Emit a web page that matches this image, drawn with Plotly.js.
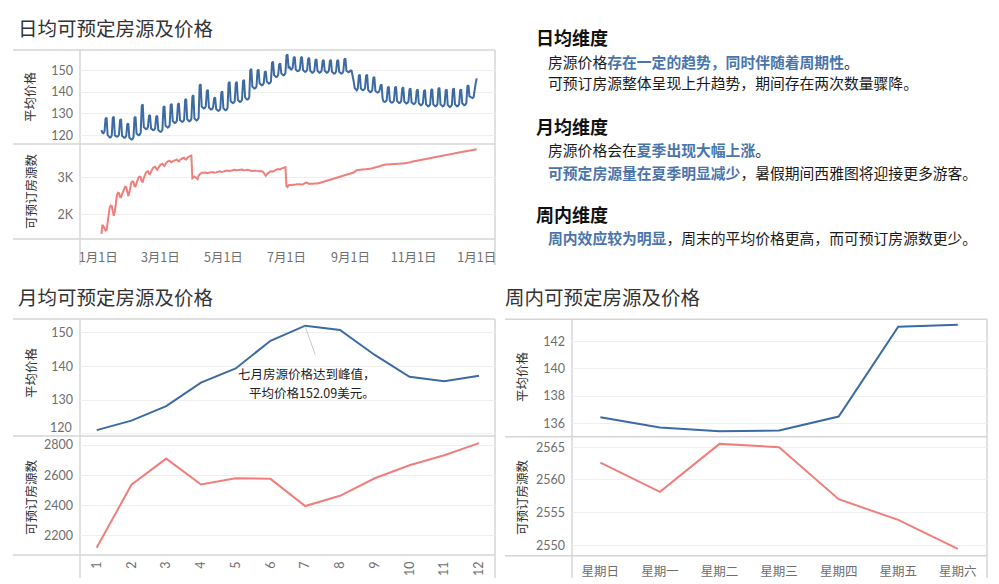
<!DOCTYPE html>
<html>
<head>
<meta charset="utf-8">
<script src="https://cdn.plot.ly/plotly-3.0.1.min.js"></script>
<style>
html,body{margin:0;padding:0;background:#fff;}
#chart{width:999px;height:584px;}
</style>
</head>
<body>
<div id="chart"></div>
<script>
// ---------- DATA ----------
const dailyStart = [2016, 0, 4]; // first day of the daily series (Mon 2016-01-04)

// daily average price, one row per week (Mon..Sun)
const dailyPrice = [
122.4,121.2,121.0,121.9,127.7,128.2,120.2,
119.3,119.0,119.1,119.9,128.1,128.6,120.0,
119.6,119.4,119.5,120.3,127.0,127.5,119.8,
119.1,118.9,119.0,119.8,125.1,125.5,119.0,
118.3,118.1,118.2,119.0,128.1,128.6,120.8,
120.2,120.0,120.3,121.2,133.5,134.3,123.8,
123.1,122.9,123.0,123.8,129.0,129.4,123.3,
122.6,122.4,122.5,123.3,128.6,129.0,122.5,
121.8,121.6,121.8,122.6,133.0,133.5,124.5,
123.8,123.6,123.8,124.7,134.0,134.5,126.6,
125.9,125.7,125.9,126.8,134.3,134.8,127.1,
126.4,126.2,126.4,127.2,136.3,136.8,127.4,
126.7,126.5,126.7,127.5,138.0,138.5,127.8,
127.1,126.9,127.2,128.0,143.0,143.6,133.3,
132.6,132.4,132.6,133.4,140.5,141.0,132.8,
132.1,131.9,132.1,132.9,137.0,137.5,132.2,
131.5,131.3,131.5,132.3,139.8,140.3,132.5,
131.8,131.6,131.8,132.6,144.1,144.7,135.8,
135.1,134.9,135.1,135.9,144.1,144.7,136.3,
135.6,135.4,135.6,136.4,145.0,145.6,137.4,
136.7,136.5,136.7,137.6,150.1,150.7,142.5,
141.8,141.6,141.8,142.6,149.9,150.4,144.0,
143.3,143.1,143.3,144.1,149.1,149.6,144.8,
144.1,143.9,144.1,145.0,153.4,154.0,147.8,
147.1,146.9,147.1,148.0,152.7,153.2,148.6,
147.9,147.7,147.9,148.8,156.8,157.4,151.3,
151.5,150.5,150.4,151.2,155.8,156.3,150.5,
149.8,149.6,149.8,150.6,155.8,156.3,150.2,
149.5,149.3,149.5,150.3,155.3,155.8,149.8,
149.1,148.9,149.1,149.9,154.7,155.2,149.8,
149.1,148.9,149.1,149.9,154.3,154.8,149.8,
149.1,148.9,149.1,149.9,154.3,154.8,149.4,
148.7,148.5,148.7,149.5,154.3,154.8,149.4,
148.7,148.5,148.7,149.6,155.0,155.5,149.8,
149.3,149.1,149.4,150.0,149.8,148.0,145.0,
141.8,141.0,140.8,141.6,147.5,148.0,141.6,
141.1,140.9,141.1,141.9,147.5,148.0,141.0,
140.1,139.9,140.1,140.9,146.5,147.0,140.6,
139.9,139.7,139.9,140.6,143.0,143.5,137.0,
135.6,135.4,135.6,136.4,142.0,142.5,136.0,
135.3,135.1,135.3,136.1,142.0,142.5,135.8,
135.1,134.9,135.1,135.9,141.7,142.2,135.6,
134.9,134.7,134.9,135.7,141.2,141.7,135.3,
134.6,134.4,134.6,135.4,140.7,141.2,134.8,
134.1,133.9,134.1,134.9,140.5,141.0,134.3,
133.6,133.4,133.6,134.4,140.9,141.4,134.3,
133.6,133.4,133.6,134.4,141.5,142.0,134.3,
133.6,133.4,133.6,134.4,140.7,141.2,134.0,
133.3,133.1,133.3,134.1,141.2,141.7,134.3,
133.6,133.4,133.6,134.4,140.7,141.2,134.8,
134.1,133.9,134.1,134.9,142.7,143.2,138.0,
137.8,137.3,137.2,137.6,141.5,144.0,146.3
];

// daily number of bookable listings, one row per week (Mon..Sun)
const dailyListings = [
1500,1740,1700,1640,1590,1600,1800,
2050,2200,2250,2240,2100,1980,2100,
2400,2520,2590,2580,2480,2470,2560,
2620,2700,2750,2740,2560,2500,2600,
2780,2860,2890,2880,2760,2760,2850,
2950,3000,3020,3010,2890,2880,2980,
3080,3120,3150,3160,3100,3080,3150,
3220,3250,3270,3280,3230,3200,3250,
3300,3330,3350,3360,3320,3300,3360,
3400,3420,3430,3440,3410,3400,3430,
3440,3450,3460,3470,3440,3420,3460,
3490,3500,3510,3520,3480,3470,3520,
3540,3555,3565,3575,2975,2990,3020,
3000,2960,2950,3040,3090,3100,3120,
3125,3130,3130,3125,3110,3105,3120,
3130,3135,3140,3140,3120,3115,3130,
3140,3150,3155,3160,3140,3135,3150,
3160,3170,3175,3180,3165,3160,3175,
3180,3190,3195,3200,3185,3180,3190,
3195,3200,3200,3205,3190,3185,3195,
3195,3200,3200,3195,3180,3170,3175,
3180,3180,3175,3170,3160,3150,3160,
3165,3160,3150,3120,3060,3040,3080,
3110,3140,3150,3160,3150,3150,3170,
3190,3200,3210,3220,3210,3210,3230,
3240,3250,3260,3270,2760,2740,2790,
2790,2800,2805,2810,2800,2795,2810,
2815,2820,2820,2815,2810,2805,2815,
2830,2850,2860,2855,2835,2825,2830,
2825,2830,2830,2835,2830,2825,2835,
2842,2850,2860,2870,2875,2880,2895,
2905,2915,2920,2930,2935,2940,2950,
2960,2970,2975,2980,2985,2990,3000,
3010,3020,3025,3035,3040,3045,3055,
3065,3075,3085,3095,3105,3115,3125,
3150,3180,3190,3195,3195,3200,3200,
3205,3205,3210,3210,3215,3215,3220,
3225,3230,3235,3240,3245,3250,3255,
3260,3265,3270,3280,3300,3315,3325,
3330,3335,3340,3342,3345,3348,3350,
3352,3354,3355,3356,3358,3360,3362,
3363,3364,3365,3366,3367,3368,3370,
3375,3380,3385,3390,3395,3400,3410,
3415,3420,3425,3430,3435,3440,3445,
3450,3455,3460,3465,3468,3470,3475,
3480,3485,3490,3495,3500,3505,3510,
3515,3520,3525,3530,3535,3540,3545,
3550,3560,3565,3570,3575,3580,3590,
3600,3605,3610,3620,3625,3630,3640,
3645,3650,3655,3660,3665,3668,3670,
3672,3675,3680,3685,3690,3693,3700,
3705,3710,3715,3720,3725,3730,3745
];

const dateTickVals = ['2016-01-01','2016-03-01','2016-05-01','2016-07-01','2016-09-01','2016-11-01','2017-01-01'];
const dateTickText = ['1月1日','3月1日','5月1日','7月1日','9月1日','11月1日','1月1日'];

const months = ['1','2','3','4','5','6','7','8','9','10','11','12'];
const monthPrice = [121.1,123.9,128.2,135.2,139.4,147.6,152.09,150.8,143.4,136.9,135.6,137.2];
const monthListings = [2121,2537,2710,2539,2580,2576,2396,2464,2580,2666,2732,2812];
const peakMonthIndex = 6; // July
const peakNoteLines = ['七月房源价格达到峰值，', '平均价格152.09美元。'];

const weekdays = ['星期日','星期一','星期二','星期三','星期四','星期五','星期六'];
const weekdayPrice = [136.44,135.68,135.41,135.46,136.49,143.10,143.25];
const weekdayListings = [2562.65,2558.16,2565.50,2565.00,2557.04,2553.87,2549.43];

// ---------- BUILD ----------
const dailyDates = dailyPrice.map((_, i) => {
  const d = new Date(Date.UTC(dailyStart[0], dailyStart[1], dailyStart[2] + i));
  return d.toISOString().slice(0, 10);
});

const W = 999, H = 584;
const X = px => px / W;
const Y = py => 1 - py / H;

const BLUE = '#3c6aa3';
const RED = '#ef7f7a';
const NUMFONT = "Lato, 'Noto Sans CJK SC', sans-serif";
const CJK = "'Noto Sans CJK SC', 'Noto Sans', sans-serif";
const tickFont = {family: NUMFONT, size: 12.5, color: '#6e6e6e'};
const GRID = '#efefef';
const FRAME = '#d6d6d6';

function yAxis(domain, range, extra) {
  return Object.assign({
    domain: domain, range: range, showgrid: true, gridcolor: GRID, gridwidth: 1,
    zeroline: false, showline: false, ticks: '', ticklabelstandoff: 6,
    tickfont: tickFont, fixedrange: true
  }, extra);
}

const traces = [
  {x: dailyDates, y: dailyPrice, xaxis: 'x', yaxis: 'y', type: 'scatter', mode: 'lines',
   line: {color: BLUE, width: 2}, hoverinfo: 'skip'},
  {x: dailyDates, y: dailyListings, xaxis: 'x', yaxis: 'y2', type: 'scatter', mode: 'lines',
   line: {color: RED, width: 2}, hoverinfo: 'skip'},
  {x: months, y: monthPrice, xaxis: 'x2', yaxis: 'y3', type: 'scatter', mode: 'lines',
   line: {color: BLUE, width: 2}, hoverinfo: 'skip'},
  {x: months, y: monthListings, xaxis: 'x2', yaxis: 'y4', type: 'scatter', mode: 'lines',
   line: {color: RED, width: 2}, hoverinfo: 'skip'},
  {x: weekdays, y: weekdayPrice, xaxis: 'x3', yaxis: 'y5', type: 'scatter', mode: 'lines',
   line: {color: BLUE, width: 2}, hoverinfo: 'skip'},
  {x: weekdays, y: weekdayListings, xaxis: 'x3', yaxis: 'y6', type: 'scatter', mode: 'lines',
   line: {color: RED, width: 2}, hoverinfo: 'skip'}
];

function hline(y, x0, x1) {
  return {type: 'line', xref: 'paper', yref: 'paper', x0: X(x0), x1: X(x1), y0: Y(y), y1: Y(y),
          line: {color: FRAME, width: 1.5}, layer: 'below'};
}
function vline(x, y0, y1) {
  return {type: 'line', xref: 'paper', yref: 'paper', x0: X(x), x1: X(x), y0: Y(y0), y1: Y(y1),
          line: {color: FRAME, width: 1.5}, layer: 'below'};
}

const shapes = [
  // daily chart frame
  hline(50, 13, 495), hline(144, 13, 495), hline(239, 13, 495),
  vline(80, 50, 265), vline(495, 50, 265),
  // monthly chart frame
  hline(319, 13, 495), hline(436, 13, 495), hline(555, 13, 495),
  vline(80, 319, 578), vline(495, 319, 578),
  // weekday chart frame
  hline(319.3, 505, 987), hline(436.7, 505, 987), hline(555.7, 505, 987),
  vline(572, 319, 578), vline(987, 319, 578),
  // leader line of the monthly peak note (anchored on the July point)
  {type: 'line', xref: 'x2', yref: 'y3', xsizemode: 'pixel', ysizemode: 'pixel',
   xanchor: peakMonthIndex, yanchor: monthPrice[peakMonthIndex], x0: 0, y0: -1, x1: 10, y1: -29,
   line: {color: '#c8c8c8', width: 1}}
];

function ann(text, px, py, opts) {
  return Object.assign({text: text, xref: 'paper', yref: 'paper', x: X(px), y: Y(py),
    xanchor: 'left', yanchor: 'middle', showarrow: false,
    font: {family: CJK, size: 14.8, color: '#1a1a1a'}}, opts || {});
}
function ytitle(text, px, py) {
  return {text: text, xref: 'paper', yref: 'paper', x: X(px), y: Y(py), xanchor: 'center', yanchor: 'middle',
    showarrow: false, textangle: -90, font: {family: CJK, size: 12.5, color: '#333'}};
}
function note(text, xs, ys) {
  return {text: text, xref: 'x2', yref: 'y3', x: peakMonthIndex, y: monthPrice[peakMonthIndex],
    xshift: xs, yshift: ys, showarrow: false, xanchor: 'center', yanchor: 'middle', borderpad: 0,
    font: {family: CJK, size: 12.5, color: '#222'}};
}
const B = s => '<b><span style="color:#4a75ab">' + s + '</span></b>';

const annotations = [
  ann('日均可预定房源及价格', 16, 27, {font: {family: CJK, size: 19.5, color: '#333'}}),
  ann('月均可预定房源及价格', 16, 296, {font: {family: CJK, size: 19.5, color: '#333'}}),
  ann('周内可预定房源及价格', 503, 296, {font: {family: CJK, size: 19.5, color: '#333'}}),
  ytitle('平均价格', 30, 97), ytitle('可预订房源数', 30, 191),
  ytitle('平均价格', 30, 373), ytitle('可预订房源数', 30, 497),
  ytitle('平均价格', 521, 377), ytitle('可预订房源数', 521, 497),
  {text: '120', xref: 'paper', yref: 'paper', x: X(74), y: Y(427.5), xanchor: 'right', yanchor: 'middle',
   showarrow: false, font: tickFont},
  note(peakNoteLines[0], 2, -47.5),
  note(peakNoteLines[1], 7, -66.5),
  // insight panel
  ann('<b>日均维度</b>', 534, 37, {font: {family: CJK, size: 18, color: '#111'}}),
  ann('房源价格' + B('存在一定的趋势，同时伴随着周期性') + '。', 546, 61.5),
  ann('可预订房源整体呈现上升趋势，期间存在两次数量骤降。', 546, 83),
  ann('<b>月均维度</b>', 534, 126, {font: {family: CJK, size: 18, color: '#111'}}),
  ann('房源价格会在' + B('夏季出现大幅上涨') + '。', 546, 149.5),
  ann(B('可预定房源量在夏季明显减少') + '，暑假期间西雅图将迎接更多游客。', 546, 172.5),
  ann('<b>周内维度</b>', 534, 214, {font: {family: CJK, size: 18, color: '#111'}}),
  ann(B('周内效应较为明显') + '，周末的平均价格更高，而可预订房源数更少。', 546, 237.5)
];

const layout = {
  width: W, height: H, margin: {l: 0, r: 0, t: 0, b: 0},
  paper_bgcolor: '#fff', plot_bgcolor: 'rgba(0,0,0,0)', showlegend: false,
  font: {family: CJK},
  xaxis: {domain: [X(80), X(495)], anchor: 'y2', type: 'date',
    range: ['2015-12-14 07:00', '2017-01-18 17:00'],
    tickmode: 'array', tickvals: dateTickVals, ticktext: dateTickText,
    showgrid: false, zeroline: false, showline: false, ticks: '', ticklabelstandoff: 9,
    tickfont: {family: CJK, size: 12.5, color: '#6e6e6e'}, fixedrange: true},
  yaxis: yAxis([Y(144), Y(50)], [116.0, 159.4], {anchor: 'x', tickvals: [120,130,140,150]}),
  yaxis2: yAxis([Y(239), Y(144)], [1363, 3883], {anchor: 'x', tickvals: [2000,3000], ticktext: ['2K','3K']}),
  xaxis2: {domain: [X(80), X(495)], anchor: 'y4', type: 'category', range: [-0.48, 11.46],
    showgrid: false, zeroline: false, showline: false, ticks: '', tickangle: -90, ticklabelstandoff: 3,
    tickfont: tickFont, fixedrange: true},
  yaxis3: yAxis([Y(436), Y(319)], [119.35, 154.07], {anchor: 'x2', tickvals: [120,130,140,150], ticktext: ['','130','140','150']}),
  yaxis4: yAxis([Y(555), Y(436)], [2072.4, 2859.5], {anchor: 'x2', tickvals: [2200,2400,2600,2800]}),
  xaxis3: {domain: [X(572), X(987)], anchor: 'y6', type: 'category', range: [-0.476, 6.49],
    showgrid: false, zeroline: false, showline: false, ticks: '', ticklabelstandoff: 7,
    tickfont: {family: CJK, size: 12.5, color: '#6e6e6e'}, fixedrange: true},
  yaxis5: yAxis([Y(436.7), Y(319.3)], [135.01, 143.65], {anchor: 'x3', tickvals: [136,138,140,142]}),
  yaxis6: yAxis([Y(555.7), Y(436.7)], [2548.4, 2566.6], {anchor: 'x3', tickvals: [2550,2555,2560,2565]}),
  shapes: shapes,
  annotations: annotations
};

Plotly.newPlot('chart', traces, layout, {displayModeBar: false, staticPlot: true});
</script>
</body>
</html>
